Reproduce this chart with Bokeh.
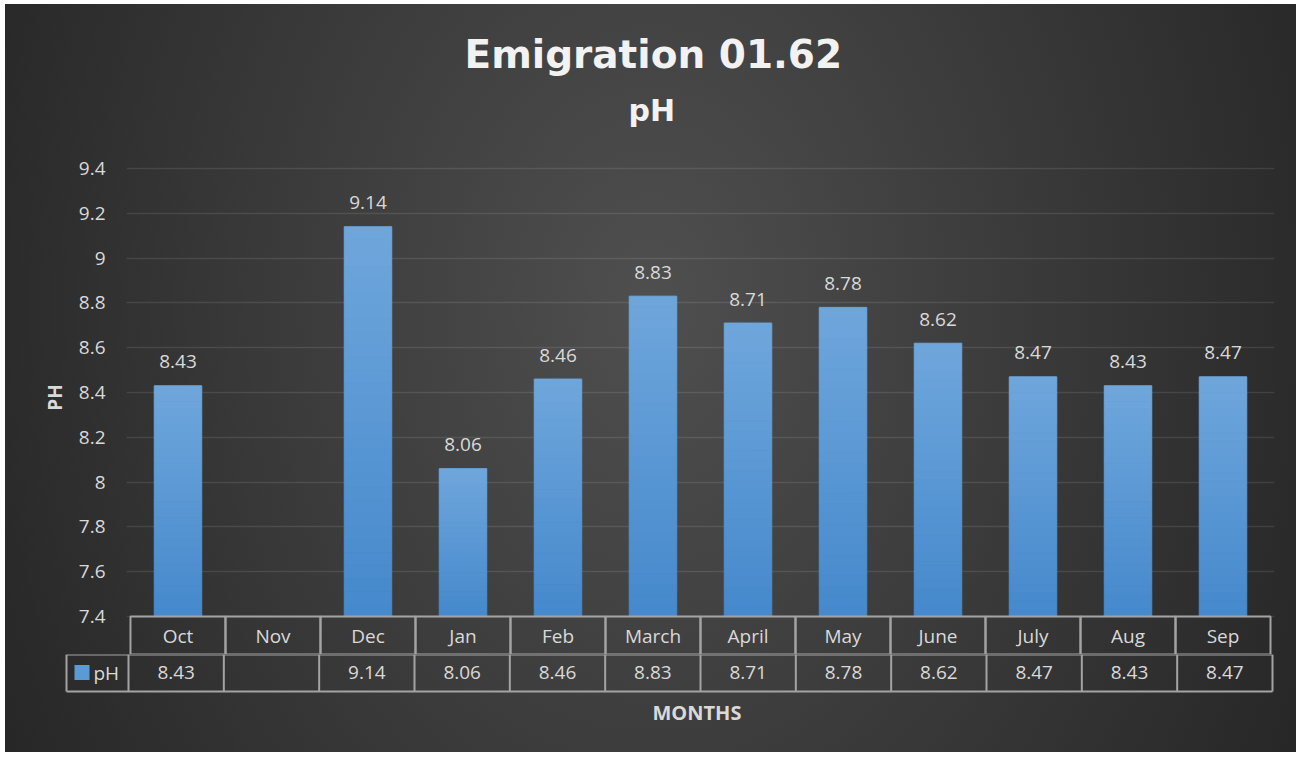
from bokeh.plotting import figure
from bokeh.layouts import column
from bokeh.models import Range1d, FactorRange, FixedTicker, Title, ColumnDataSource
from bokeh.core.properties import value
from bokeh.embed import file_html
from bokeh.resources import INLINE

# ---------------- data ----------------
months = ["Oct", "Nov", "Dec", "Jan", "Feb", "March", "April", "May",
          "June", "July", "Aug", "Sep"]
ph_values = [8.43, None, 9.14, 8.06, 8.46, 8.83, 8.71, 8.78, 8.62, 8.47, 8.43, 8.47]
series_name = "pH"
y_ticks = [7.4, 7.6, 7.8, 8.0, 8.2, 8.4, 8.6, 8.8, 9.0, 9.2, 9.4]
y_tick_labels = ["7.4", "7.6", "7.8", "8", "8.2", "8.4", "8.6", "8.8", "9", "9.2", "9.4"]
title_main = "Emigration 01.62"
title_sub = "pH"
x_title = "MONTHS"
y_title = "PH"

# ---------------- style / layout constants ----------------
FONT = "Open Sans"
TFONT = "DejaVu Sans"
TXT = "#d9d9d9"
TABLE_LINE = "#a3a3a3"
BAR_TOP = (111, 166, 220)
BAR_BOT = (69, 137, 204)
W = 1291
CAT_PX = (1272 - 128) / 12.0          # pixels per category
PX_PER_UNIT = (616 - 168) / (y_ticks[-1] - y_ticks[0])   # pixels per pH unit
Y_BASE = y_ticks[0]
ROW1_PX = 38                           # height of the month-name row
PAD_PX = 2

# ---------------- top figure: bars + month row ----------------
y_start = Y_BASE - ROW1_PX / PX_PER_UNIT
y_end = y_ticks[-1] + 28 / PX_PER_UNIT
p = figure(x_range=FactorRange(*months, range_padding=2 * PAD_PX / CAT_PX,
                               range_padding_units="absolute"),
           y_range=Range1d(y_start, y_end),
           width=W, height=650, output_backend="svg", toolbar_location=None,
           x_axis_location=None, min_border_left=128 - PAD_PX - 5,
           min_border_right=1296 - 1272 - PAD_PX,
           min_border_top=136, min_border_bottom=0)
p.frame_align = False
p.background_fill_color = None
p.border_fill_color = None
p.outline_line_color = None
p.xgrid.visible = False
p.ygrid.ticker = FixedTicker(ticks=y_ticks)
p.ygrid.grid_line_color = "#ffffff"
p.ygrid.grid_line_alpha = 0.1
p.ygrid.grid_line_width = 1.5

ax = p.yaxis[0]
ax.ticker = FixedTicker(ticks=y_ticks)
ax.bounds = (y_ticks[0], y_ticks[-1])
ax.major_label_overrides = dict(zip(y_ticks, y_tick_labels))
ax.axis_line_color = None
ax.major_tick_line_color = None
ax.minor_tick_line_color = None
ax.major_tick_in = 0
ax.major_tick_out = 0
ax.major_label_standoff = 21
ax.major_label_text_font = FONT
ax.major_label_text_font_size = "19px"
ax.major_label_text_color = TXT
ax.axis_label = y_title
ax.axis_label_text_font = FONT
ax.axis_label_text_font_style = "bold"
ax.axis_label_text_font_size = "19px"
ax.axis_label_text_color = TXT
ax.axis_label_standoff = 8

# gradient bars built as thin slices of each bar
N = 30
bx, bb, bt, bc = [], [], [], []
for m, v in zip(months, ph_values):
    if v is None:
        continue
    for k in range(N):
        f = (k + 0.5) / N
        c = tuple(int(round(BAR_BOT[j] + (BAR_TOP[j] - BAR_BOT[j]) * f)) for j in range(3))
        bx.append(m)
        bb.append(Y_BASE + (v - Y_BASE) * k / N)
        bt.append(Y_BASE + (v - Y_BASE) * (k + 1) / N)
        bc.append("#%02x%02x%02x" % c)
p.vbar(x=bx, bottom=bb, top=bt, width=0.5, fill_color=bc, line_color=bc, line_width=1)

lab = ColumnDataSource(dict(
    x=[m for m, v in zip(months, ph_values) if v is not None],
    y=[v for v in ph_values if v is not None],
    t=["%.2f" % v for v in ph_values if v is not None]))
p.text(x="x", y="y", text="t", source=lab, text_align="center", text_baseline="middle",
       y_offset=-24, text_font=value(FONT), text_font_size="19px", text_color=TXT)

# first table row (month names) inside the bar figure
row1_c = Y_BASE - (ROW1_PX / 2) / PX_PER_UNIT
p.rect(x=months, y=[row1_c] * len(months), width=1, height=ROW1_PX / PX_PER_UNIT,
       fill_color=None, line_color=TABLE_LINE, line_width=2)
p.text(x=months, y=[row1_c] * len(months), text=months, text_align="center",
       text_baseline="middle", text_font=value(FONT), text_font_size="19px", text_color=TXT)

p.add_layout(Title(text=title_sub, text_font=TFONT, text_font_style="bold",
                   text_font_size="30px", text_color="#f2f2f2", align="left",
                   offset=628 - 126, standoff=26), "above")
p.add_layout(Title(text=title_main, text_font=TFONT, text_font_style="bold",
                   text_font_size="39px", text_color="#f2f2f2", align="left",
                   offset=464 - 126, standoff=2), "above")

# ---------------- bottom figure: value row + legend cell ----------------
LEFT_PX, RIGHT_PX = 63, 1274
x0 = (LEFT_PX - 128) / CAT_PX
x1 = 12 + (RIGHT_PX - 1272) / CAT_PX
xl = (66 - 128) / CAT_PX
q = figure(x_range=Range1d(x0, x1), y_range=Range1d(0, 40), width=W, height=98,
           output_backend="svg", toolbar_location=None, x_axis_location=None,
           y_axis_location=None, min_border_left=LEFT_PX - 5, min_border_right=1296 - RIGHT_PX,
           min_border_top=0, min_border_bottom=58)
q.frame_align = False
q.background_fill_color = None
q.border_fill_color = None
q.outline_line_color = None
q.xgrid.visible = False
q.ygrid.visible = False

n = len(months)
ROW_TOP, ROW_BOT = 40, 3
q.segment(x0=[xl, xl], y0=[ROW_TOP, ROW_BOT], x1=[n, n], y1=[ROW_TOP, ROW_BOT],
          line_color=TABLE_LINE, line_width=2)
q.segment(x0=list(range(n + 1)) + [xl], y0=[ROW_BOT] * (n + 2),
          x1=list(range(n + 1)) + [xl], y1=[ROW_TOP] * (n + 2),
          line_color=TABLE_LINE, line_width=2)
cx = [i + 0.5 for i in range(n)]
q.text(x=cx, y=[22] * n, text=["" if v is None else "%.2f" % v for v in ph_values],
       text_align="center", text_baseline="middle",
       text_font=value(FONT), text_font_size="19px", text_color=TXT)
q.scatter(x=[(81.5 - 128) / CAT_PX], y=[22], marker="square", size=15,
          fill_color="#5b9bd5", line_color=None)
q.text(x=[(93 - 128) / CAT_PX], y=[22], text=[series_name], text_align="left",
       text_baseline="middle", text_font=value(FONT), text_font_size="19px", text_color=TXT)

q.add_layout(Title(text=x_title, text_font=FONT, text_font_style="bold",
                   text_font_size="20px", text_color=TXT, align="left",
                   offset=652 - LEFT_PX, standoff=4), "below")

layout = column(p, q, spacing=0, styles={
    "margin": "4px 0 0 5px",
    "background": "radial-gradient(ellipse 740px 1000px at 50% 40%, #4f4f4f 0%, #262626 100%)"})

open("out.html", "w").write(file_html(layout, INLINE))
